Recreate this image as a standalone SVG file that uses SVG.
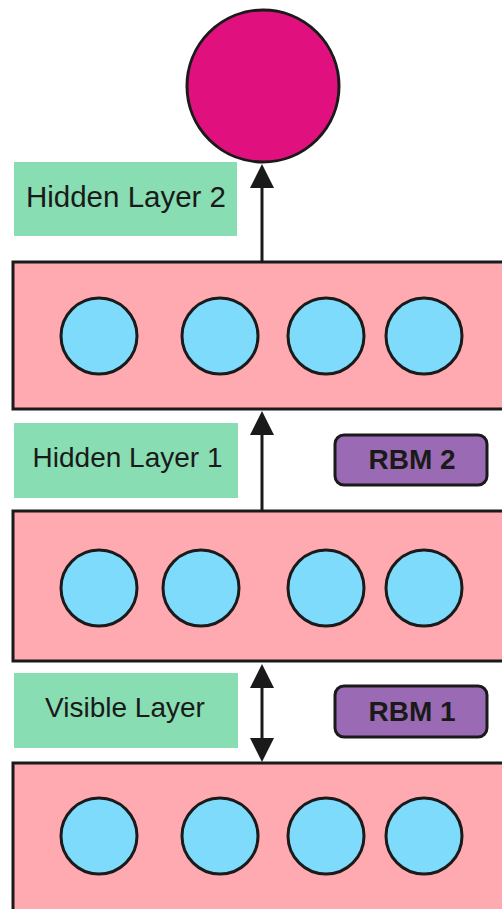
<svg xmlns="http://www.w3.org/2000/svg" width="502" height="909" viewBox="0 0 502 909">
<style>
.layer{fill:#FFA9B0;stroke:#1a1a1a;stroke-width:3}
.unit{fill:#7FDBFB;stroke:#1a1a1a;stroke-width:3}
.label{fill:#88DDB3}
.lt{font-family:"Liberation Sans",Arial,sans-serif;font-size:28px;fill:#1a1a1a;text-anchor:middle}
.rbm{fill:#9A6AB5;stroke:#1a1a1a;stroke-width:3}
.rt{font-family:"Liberation Sans",Arial,sans-serif;font-size:28px;font-weight:bold;fill:#1a1a1a;text-anchor:middle}
.conn{stroke:#1a1a1a;stroke-width:3;fill:none}
</style>
<defs>
<marker id="ah" viewBox="0 0 24 24" refX="14" refY="12" markerWidth="24" markerHeight="24" markerUnits="userSpaceOnUse" orient="auto-start-reverse">
<path d="M0,0 L24,12 L0,24 z" fill="#1a1a1a"/>
</marker>
</defs>
<rect width="502" height="909" fill="#ffffff"/>
<g id="layer-hidden1">
<rect class="layer" x="13" y="262" width="520" height="147"/>
<circle class="unit" cx="99" cy="336" r="38"/>
<circle class="unit" cx="220" cy="336" r="38"/>
<circle class="unit" cx="326" cy="336" r="38"/>
<circle class="unit" cx="424" cy="336" r="38"/>
</g>
<g id="layer-hidden0">
<rect class="layer" x="13" y="511" width="520" height="150"/>
<circle class="unit" cx="99" cy="588" r="38"/>
<circle class="unit" cx="201" cy="588" r="38"/>
<circle class="unit" cx="326" cy="588" r="38"/>
<circle class="unit" cx="424" cy="588" r="38"/>
</g>
<g id="layer-visible">
<rect class="layer" x="13" y="763" width="520" height="160"/>
<circle class="unit" cx="99" cy="836" r="38"/>
<circle class="unit" cx="220" cy="836" r="38"/>
<circle class="unit" cx="326" cy="836" r="38"/>
<circle class="unit" cx="424" cy="836" r="38"/>
</g>
<g id="output">
<circle cx="263" cy="86" r="76" fill="#E0117F" stroke="#1a1a1a" stroke-width="3"/>
</g>
<g id="label-hidden2">
<rect class="label" x="14" y="162" width="223" height="74"/>
<text class="lt" x="126" y="207" style="font-size:29.5px">Hidden Layer 2</text>
</g>
<g id="label-hidden1">
<rect class="label" x="14" y="423" width="224" height="75"/>
<text class="lt" x="127.5" y="467">Hidden Layer 1</text>
</g>
<g id="label-visible">
<rect class="label" x="14" y="673" width="224" height="75"/>
<text class="lt" x="125" y="717">Visible Layer</text>
</g>
<g id="rbm2">
<rect class="rbm" x="335" y="435" width="152" height="50" rx="9"/>
<text class="rt" x="412" y="469">RBM 2</text>
</g>
<g id="rbm1">
<rect class="rbm" x="335" y="686" width="152" height="51" rx="9"/>
<text class="rt" x="412" y="721">RBM 1</text>
</g>
<g id="connectors">
<line class="conn" x1="262" y1="262" x2="262" y2="174" marker-end="url(#ah)"/>
<line class="conn" x1="262" y1="511" x2="262" y2="421" marker-end="url(#ah)"/>
<line class="conn" x1="262" y1="674" x2="262" y2="752" marker-start="url(#ah)" marker-end="url(#ah)"/>
</g>
</svg>
